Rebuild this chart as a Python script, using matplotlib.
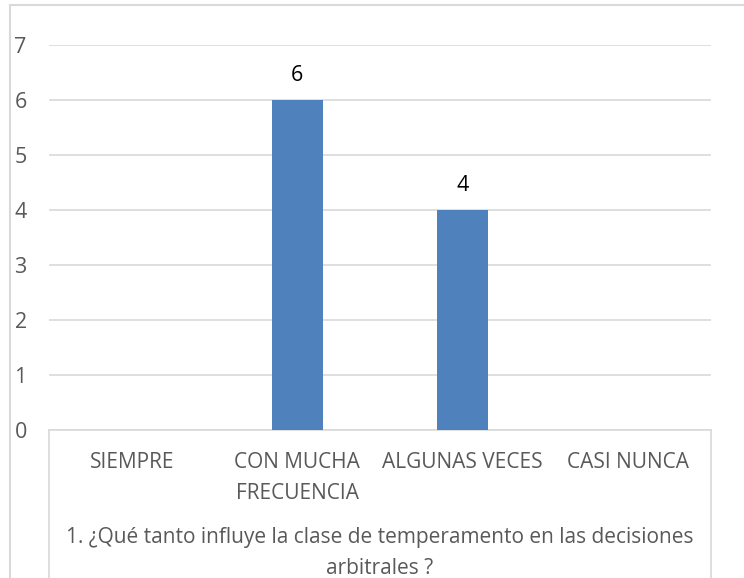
import matplotlib.pyplot as plt
from matplotlib.lines import Line2D
from matplotlib.patches import Rectangle

categorias = ["SIEMPRE", "CON MUCHA\nFRECUENCIA", "ALGUNAS VECES", "CASI NUNCA"]
valores = [0, 6, 4, 0]
titulo_x = "1. ¿Qué tanto influye la clase de temperamento en las decisiones\narbitrales ?"

W, H = 744, 578
plt.rcParams['font.family'] = ['Open Sans', 'DejaVu Sans']

fig = plt.figure(figsize=(W / 100, H / 100), dpi=100)
ax = fig.add_axes([49 / W, (H - 430) / H, (711 - 49) / W, (430 - 45) / H])

x = range(len(categorias))
barras = ax.bar(x, valores, width=0.31, color="#4F81BD", zorder=3)
for b, v in zip(barras, valores):
    if v:
        ax.text(b.get_x() + b.get_width() / 2, v + 0.25, str(v),
                ha="center", va="bottom", fontsize=15.5, color="#000000")

ax.set_xlim(-0.5, len(categorias) - 0.5)
ax.set_ylim(0, 7)
ax.set_yticks(range(0, 8))
ax.yaxis.grid(True, color="#D9D9D9", linewidth=1.2, zorder=0)
ax.tick_params(axis="y", length=0, pad=16, labelsize=15.5, labelcolor="#595959")
ax.tick_params(axis="x", length=0, labelbottom=False)
for s in ["top", "right", "left"]:
    ax.spines[s].set_visible(False)
ax.spines["bottom"].set_color("#D9D9D9")
ax.spines["bottom"].set_linewidth(1.2)

# etiquetas de categorías
for i, c in enumerate(categorias):
    ax.annotate(c, xy=(i, 0), xycoords="data", xytext=(0, -22), textcoords="offset pixels",
                ha="center", va="top", fontsize=15, color="#595959", linespacing=1.6)

fig.text((49 + 711) / 2 / W, 1 - 527 / H, titulo_x, ha="center", va="top",
         fontsize=15, color="#595959", linespacing=1.62)

# caja del eje de categorías
gris = "#D9D9D9"
fig.add_artist(Line2D([49 / W, 49 / W], [0, (H - 430) / H], color=gris, lw=1.2))
fig.add_artist(Line2D([711 / W, 711 / W], [0, (H - 430) / H], color=gris, lw=1.2))
# borde exterior
fig.add_artist(Rectangle((10 / W, -0.05), (W + 20) / W, (H - 5) / H + 0.05,
                         fill=False, edgecolor=gris, lw=1.5))

fig.savefig("out.png", dpi=100)
